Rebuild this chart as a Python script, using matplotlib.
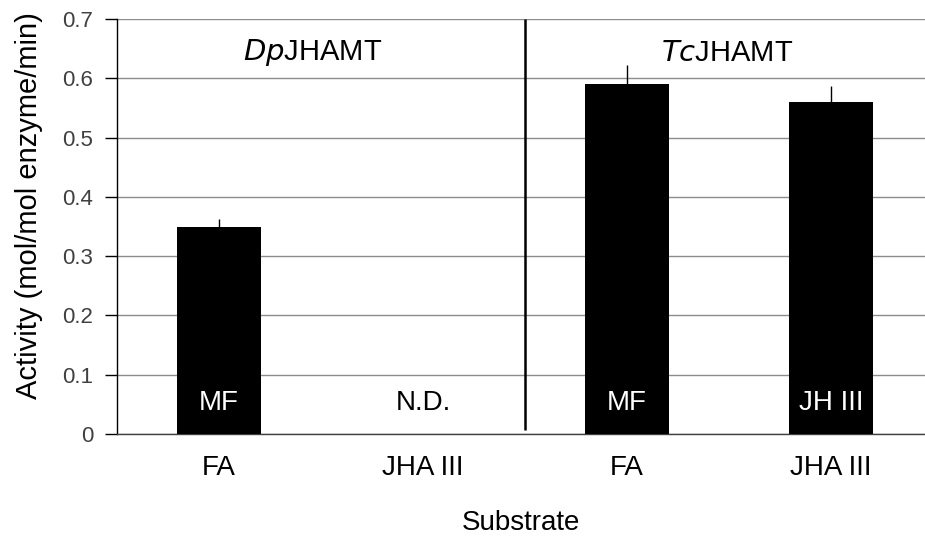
import matplotlib
matplotlib.use("Agg")
import matplotlib.pyplot as plt

plt.rcParams['font.family'] = ['Liberation Sans', 'DejaVu Sans']

substrates = ["FA", "JHA III", "FA", "JHA III"]
activity = [0.35, 0.0, 0.59, 0.56]
errors = [0.013, 0.0, 0.032, 0.027]
products = ["MF", "N.D.", "MF", "JH III"]
enzymes = [("Dp", "JHAMT"), ("Tc", "JHAMT")]
yticks = [0, 0.1, 0.2, 0.3, 0.4, 0.5, 0.6, 0.7]
ytick_labels = ["0", "0.1", "0.2", "0.3", "0.4", "0.5", "0.6", "0.7"]

W, H = 925, 541
fig = plt.figure(figsize=(W / 100, H / 100), dpi=100)
left, right, top, bottom = 117, 925, 19, 434
ax = fig.add_axes([left / W, (H - bottom) / H, (right - left) / W, (bottom - top) / H])

x = list(range(len(substrates)))
ax.set_xlim(-0.5, 3.46)
ax.set_ylim(0, 0.7)

ax.yaxis.grid(True, color="#8c8c8c", linewidth=1.0)
ax.set_axisbelow(True)

ax.bar(x, activity, width=0.41, color="black", zorder=3)
for xi, v, e in zip(x, activity, errors):
    if e > 0:
        ax.vlines(xi, v, v + e, color="black", linewidth=1.0, zorder=2)

for xi, v, lab in zip(x, activity, products):
    col = "white" if v > 0 else "black"
    ax.text(xi, 0.052, lab, ha="center", va="center", color=col, fontsize=20, zorder=4)

# group divider
ax.vlines(1.5, 0.006, 0.7, color="black", linewidth=1.8, zorder=4)

for cx, (sp, name) in zip([0.46, 2.49], enzymes):
    ax.text(cx, 0.643, "$\\it{" + sp + "}$" + name, ha="center", va="center",
            fontsize=21, color="black")

ax.set_yticks(yticks)
ax.set_yticklabels(ytick_labels)
ax.set_xticks(x)
ax.set_xticklabels(substrates)
ax.tick_params(axis="y", length=9, width=1, color="black", labelsize=16,
               labelcolor="#404040", pad=8)
ax.tick_params(axis="x", length=0, labelsize=20, labelcolor="black", pad=15)

for s in ["top", "right"]:
    ax.spines[s].set_visible(False)
ax.spines["left"].set_linewidth(1.0)
ax.spines["bottom"].set_linewidth(1.0)
ax.spines["bottom"].set_color("#404040")

ax.set_ylabel("Activity (mol/mol enzyme/min)", fontsize=21, color="black")
ax.yaxis.set_label_coords(-0.091, 0.55)
ax.set_xlabel("Substrate", fontsize=20, color="black", labelpad=21)

fig.savefig("out.png", dpi=100)
